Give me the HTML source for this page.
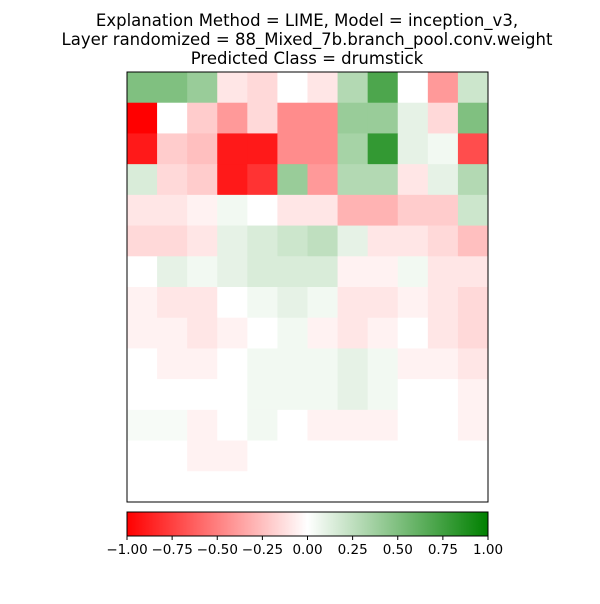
<!DOCTYPE html>
<html><head><meta charset="utf-8"><style>
body{margin:0;background:#fff;font-family:"DejaVu Sans","Liberation Sans",sans-serif}
</style></head><body>
<svg id="chart" width="600" height="600" xmlns="http://www.w3.org/2000/svg">
<defs>
<linearGradient id="cbg" x1="0" x2="1" y1="0" y2="0">
<stop offset="0" stop-color="#ff0000"/><stop offset="0.5" stop-color="#ffffff"/><stop offset="1" stop-color="#008000"/>
</linearGradient>
</defs>
<g font-size="16.5" text-anchor="middle" fill="#000" font-family="DejaVu Sans, sans-serif">
<text x="307" y="26">Explanation Method = LIME, Model = inception_v3,</text>
<text x="307" y="45">Layer randomized = 88_Mixed_7b.branch_pool.conv.weight</text>
<text x="307" y="64">Predicted Class = drumstick</text>
</g>
<g id="cells"></g>
<rect x="127" y="72" width="361" height="430" fill="none" stroke="#000" stroke-width="1"/>
<rect x="127" y="512" width="361" height="24" fill="url(#cbg)" stroke="#000" stroke-width="1"/>
<g id="cbticks" font-size="13.5" text-anchor="middle" font-family="DejaVu Sans, sans-serif"></g>
</svg>
<script>
const cellValues = [
[0.5,0.5,0.4,-0.1,-0.15,0,-0.1,0.3,0.7,0,-0.4,0.2],
[-1,0,-0.2,-0.4,-0.15,-0.45,-0.45,0.4,0.4,0.1,-0.15,0.5],
[-0.9,-0.2,-0.25,-0.9,-0.9,-0.45,-0.45,0.35,0.8,0.1,0.05,-0.7],
[0.15,-0.15,-0.2,-0.9,-0.8,0.4,-0.4,0.3,0.3,-0.1,0.1,0.3],
[-0.1,-0.1,-0.05,0.05,0,-0.1,-0.1,-0.3,-0.3,-0.2,-0.2,0.2],
[-0.15,-0.15,-0.1,0.1,0.15,0.2,0.25,0.1,-0.1,-0.1,-0.15,-0.25],
[0,0.1,0.05,0.1,0.15,0.15,0.15,-0.05,-0.05,0.05,-0.1,-0.1],
[-0.05,-0.1,-0.1,0,0.05,0.1,0.05,-0.1,-0.1,-0.05,-0.1,-0.15],
[-0.05,-0.05,-0.1,-0.05,0,0.05,-0.05,-0.1,-0.05,0,-0.1,-0.15],
[0,-0.05,-0.05,0,0.05,0.05,0.05,0.1,0.05,-0.05,-0.05,-0.1],
[0,0,0,0,0.05,0.05,0.05,0.1,0.05,0,0,-0.05],
[0.03,0.03,-0.05,0,0.05,0,-0.05,-0.05,-0.05,0,0,-0.05],
[0,0,-0.05,-0.05,0,0,0,0,0,0,0,0],
[0,0,0,0,0,0,0,0,0,0,0,0]
];
const tickValues = [-1,-0.75,-0.5,-0.25,0,0.25,0.5,0.75,1];
const tickLabels = ["−1.00","−0.75","−0.50","−0.25","0.00","0.25","0.50","0.75","1.00"];
const NS="http://www.w3.org/2000/svg";
const X0=127,X1=488,Y0=72,Y1=502;
function color(v){
  if(v<0){const t=-v;return `rgb(255,${Math.round(255*(1-t))},${Math.round(255*(1-t))})`;}
  const t=v;return `rgb(${Math.round(255*(1-t))},${Math.round(255-127*t)},${Math.round(255*(1-t))})`;
}
const rows=cellValues.length,cols=cellValues[0].length;
const cw=(X1-X0)/cols,ch=(Y1-Y0)/rows;
const g=document.getElementById('cells');
cellValues.forEach((row,r)=>row.forEach((v,c)=>{
  const el=document.createElementNS(NS,'rect');
  el.setAttribute('x',X0+c*cw);el.setAttribute('y',Y0+r*ch);
  el.setAttribute('width',cw+0.5);el.setAttribute('height',ch+0.5);
  el.setAttribute('fill',color(v));
  
  
  g.appendChild(el);
}));
const cx=v=>X0+(v+1)/2*(X1-X0);
const tg=document.getElementById('cbticks');
tickValues.forEach((v,i)=>{
  const l=document.createElementNS(NS,'line');
  l.setAttribute('x1',cx(v));l.setAttribute('x2',cx(v));l.setAttribute('y1',536);l.setAttribute('y2',540);
  l.setAttribute('stroke','#000');
  
  
  tg.appendChild(l);
  const t=document.createElementNS(NS,'text');
  t.setAttribute('x',cx(v));t.setAttribute('y',554);t.textContent=tickLabels[i];
  
  
  tg.appendChild(t);
});
</script>
</body></html>
